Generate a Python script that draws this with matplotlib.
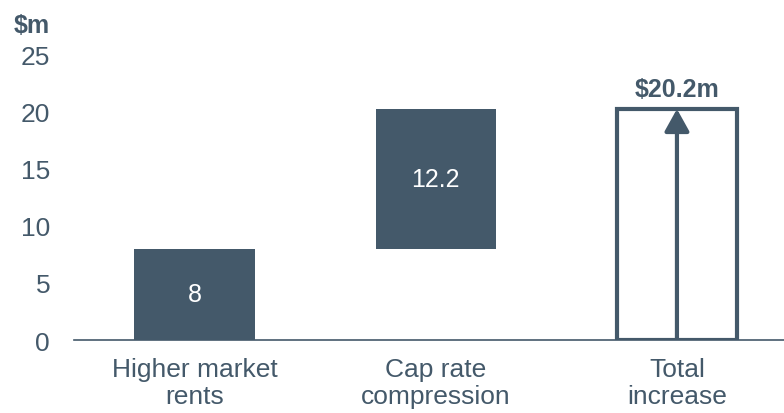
import matplotlib.pyplot as plt
from matplotlib.patches import FancyArrowPatch

plt.rcParams['font.family'] = ['Liberation Sans', 'DejaVu Sans']

categories = ['Higher market\nrents', 'Cap rate\ncompression', 'Total\nincrease']
bottoms = [0, 8, 0]
heights = [8, 12.2, 20.2]
bar_labels = ['8', '12.2', '$20.2m']
yticks = [0, 5, 10, 15, 20, 25]

color = '#44596a'

fig = plt.figure(figsize=(7.84, 4.14), dpi=100)
ax = fig.add_axes([0.094, 0.176, 0.906, 0.691])

x = range(len(categories))
ax.bar([0, 1], heights[:2], bottom=bottoms[:2], width=0.5, color=color)
ax.bar(2, heights[2], bottom=bottoms[2], width=0.5, facecolor='white',
       edgecolor=color, linewidth=3)

# arrow inside total bar
arr = FancyArrowPatch((2, bottoms[2]), (2, bottoms[2] + heights[2]),
                      arrowstyle='-|>,head_length=9,head_width=5',
                      mutation_scale=1.5, color=color, linewidth=3,
                      shrinkA=0, shrinkB=0)
ax.add_patch(arr)

ax.text(0, bottoms[0] + heights[0] / 2, bar_labels[0], ha='center', va='center',
        color='white', fontsize=18)
ax.text(1, bottoms[1] + heights[1] / 2, bar_labels[1], ha='center', va='center',
        color='white', fontsize=18)
ax.text(2, bottoms[2] + heights[2] + 0.7, bar_labels[2], ha='center', va='bottom',
        color=color, fontsize=18, fontweight='bold')

ax.set_xlim(-0.502, 2.444)
ax.set_ylim(0, 25)
ax.set_yticks(yticks)
ax.set_xticks(list(x))
ax.set_xticklabels(categories, linespacing=1.15)
ax.tick_params(axis='both', length=0, labelsize=19, labelcolor=color)
ax.tick_params(axis='x', pad=12)
ax.tick_params(axis='y', pad=17)
for s in ['top', 'right', 'left']:
    ax.spines[s].set_visible(False)
ax.spines['bottom'].set_color(color)
ax.spines['bottom'].set_linewidth(1.2)

fig.text(0.017, 0.92, '$m', color=color, fontsize=18, fontweight='bold',
         va='baseline')

plt.savefig('out.png', dpi=100)
